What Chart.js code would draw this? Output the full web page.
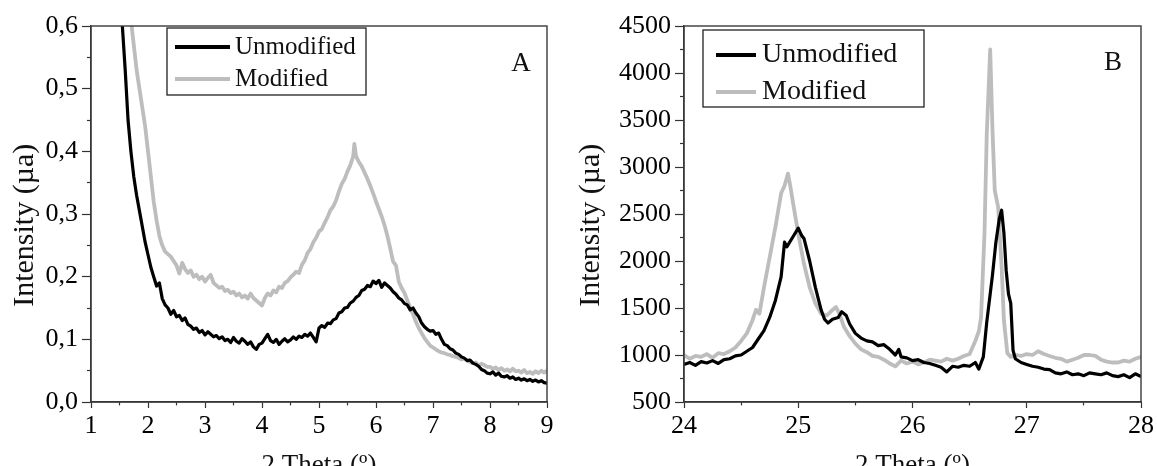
<!DOCTYPE html>
<html>
<head>
<meta charset="utf-8">
<script src="https://cdn.jsdelivr.net/npm/chart.js@4.4.0/dist/chart.umd.min.js"></script>
<style>
  html, body { margin: 0; padding: 0; background: #fff; width: 1157px; height: 466px; overflow: hidden; }
  canvas { position: absolute; top: 0; }
  #chartA { left: 0; }
  #chartB { left: 570px; }
</style>
</head>
<body>
<canvas id="chartA" width="570" height="466"></canvas>
<canvas id="chartB" width="587" height="466"></canvas>
<script>
// ---- data ----
const seriesNames = ['Unmodified', 'Modified'];

// panel A : low angle
const thetaA_unmod = [1.50, 1.55, 1.60, 1.65, 1.70, 1.75, 1.80, 1.85, 1.90, 1.95, 2.00, 2.05, 2.10, 2.15, 2.20, 2.25, 2.30, 2.35,
  2.40, 2.45, 2.50, 2.55, 2.60, 2.65, 2.70, 2.75, 2.80, 2.85, 2.90, 2.95, 3.00, 3.05, 3.10, 3.15, 3.20, 3.25, 3.30, 3.35,
  3.40, 3.45, 3.50, 3.55, 3.60, 3.65, 3.70, 3.75, 3.80, 3.85, 3.90, 3.95, 4.00, 4.05, 4.10, 4.15, 4.20, 4.25, 4.30, 4.35,
  4.40, 4.45, 4.50, 4.55, 4.60, 4.65, 4.70, 4.75, 4.80, 4.85, 4.90, 4.95, 5.00, 5.05, 5.10, 5.15, 5.20, 5.25, 5.30, 5.35,
  5.40, 5.45, 5.50, 5.55, 5.60, 5.65, 5.70, 5.75, 5.80, 5.85, 5.90, 5.95, 6.00, 6.05, 6.10, 6.15, 6.20, 6.25, 6.30, 6.35,
  6.40, 6.45, 6.50, 6.55, 6.60, 6.65, 6.70, 6.75, 6.80, 6.85, 6.90, 6.95, 7.00, 7.05, 7.10, 7.15, 7.20, 7.25, 7.30, 7.35,
  7.40, 7.45, 7.50, 7.55, 7.60, 7.65, 7.70, 7.75, 7.80, 7.85, 7.90, 7.95, 8.00, 8.05, 8.10, 8.15, 8.20, 8.25, 8.30, 8.35,
  8.40, 8.45, 8.50, 8.55, 8.60, 8.65, 8.70, 8.75, 8.80, 8.85, 8.90, 8.95, 9.00];
const intA_unmod = [0.68, 0.60, 0.53, 0.45, 0.40, 0.36, 0.33, 0.305, 0.28, 0.255, 0.235, 0.215, 0.20, 0.185, 0.19, 0.165, 0.155, 0.15,
  0.140, 0.146, 0.136, 0.138, 0.130, 0.134, 0.124, 0.121, 0.116, 0.118, 0.111, 0.114, 0.107, 0.112, 0.108, 0.104, 0.106, 0.101, 0.104, 0.098,
  0.100, 0.095, 0.103, 0.097, 0.094, 0.101, 0.097, 0.092, 0.096, 0.088, 0.084, 0.092, 0.094, 0.101, 0.108, 0.098, 0.095, 0.100, 0.092, 0.097,
  0.101, 0.096, 0.099, 0.104, 0.100, 0.105, 0.103, 0.108, 0.105, 0.110, 0.103, 0.096, 0.118, 0.122, 0.119, 0.126, 0.125, 0.131, 0.133, 0.142,
  0.144, 0.150, 0.151, 0.158, 0.161, 0.167, 0.170, 0.178, 0.180, 0.186, 0.184, 0.193, 0.189, 0.194, 0.183, 0.190, 0.186, 0.182, 0.176, 0.172,
  0.166, 0.163, 0.157, 0.155, 0.147, 0.150, 0.142, 0.136, 0.126, 0.120, 0.116, 0.113, 0.114, 0.108, 0.110, 0.100, 0.092, 0.090, 0.085, 0.083,
  0.078, 0.076, 0.072, 0.070, 0.066, 0.067, 0.062, 0.060, 0.057, 0.052, 0.050, 0.046, 0.045, 0.048, 0.043, 0.046, 0.041, 0.040, 0.042, 0.038,
  0.040, 0.036, 0.038, 0.035, 0.037, 0.034, 0.036, 0.033, 0.035, 0.032, 0.034, 0.031, 0.030];

const thetaA_mod = [1.65, 1.70, 1.75, 1.80, 1.85, 1.90, 1.95, 2.00, 2.05, 2.10, 2.15, 2.20, 2.25, 2.30, 2.35,
  2.40, 2.45, 2.50, 2.55, 2.60, 2.65, 2.70, 2.75, 2.80, 2.85, 2.90, 2.95, 3.00, 3.05, 3.10, 3.15, 3.20, 3.25, 3.30, 3.35,
  3.40, 3.45, 3.50, 3.55, 3.60, 3.65, 3.70, 3.75, 3.80, 3.85, 3.90, 3.95, 4.00, 4.05, 4.10, 4.15, 4.20, 4.25, 4.30, 4.35,
  4.40, 4.45, 4.50, 4.55, 4.60, 4.65, 4.70, 4.75, 4.80, 4.85, 4.90, 4.95, 5.00, 5.05, 5.10, 5.15, 5.20, 5.25, 5.30, 5.35,
  5.40, 5.45, 5.50, 5.55, 5.60, 5.62, 5.65, 5.70, 5.75, 5.80, 5.85, 5.90, 5.95, 6.00, 6.05, 6.10, 6.15, 6.20, 6.25, 6.30, 6.35,
  6.40, 6.45, 6.50, 6.55, 6.60, 6.65, 6.70, 6.75, 6.80, 6.85, 6.90, 6.95, 7.00, 7.05, 7.10, 7.15, 7.20, 7.25, 7.30, 7.35,
  7.40, 7.45, 7.50, 7.55, 7.60, 7.65, 7.70, 7.75, 7.80, 7.85, 7.90, 7.95, 8.00, 8.05, 8.10, 8.15, 8.20, 8.25, 8.30, 8.35,
  8.40, 8.45, 8.50, 8.55, 8.60, 8.65, 8.70, 8.75, 8.80, 8.85, 8.90, 8.95, 9.00];
const intA_mod = [0.66, 0.61, 0.57, 0.53, 0.50, 0.47, 0.44, 0.40, 0.36, 0.32, 0.29, 0.265, 0.25, 0.24, 0.236,
  0.232, 0.225, 0.218, 0.205, 0.222, 0.212, 0.206, 0.210, 0.200, 0.203, 0.196, 0.200, 0.192, 0.198, 0.203, 0.190, 0.186, 0.182, 0.184, 0.177,
  0.179, 0.174, 0.176, 0.170, 0.173, 0.167, 0.170, 0.165, 0.173, 0.166, 0.162, 0.158, 0.154, 0.166, 0.173, 0.170, 0.178, 0.175, 0.184, 0.182,
  0.190, 0.193, 0.199, 0.203, 0.208, 0.206, 0.219, 0.226, 0.238, 0.244, 0.255, 0.262, 0.272, 0.276, 0.286, 0.295, 0.306, 0.312, 0.322, 0.336,
  0.348, 0.356, 0.368, 0.378, 0.392, 0.412, 0.392, 0.383, 0.376, 0.366, 0.356, 0.345, 0.333, 0.320, 0.308, 0.296, 0.282, 0.265, 0.245, 0.224, 0.218,
  0.192, 0.182, 0.174, 0.162, 0.150, 0.140, 0.128, 0.118, 0.110, 0.102, 0.096, 0.090, 0.087, 0.084, 0.081, 0.079, 0.078, 0.076, 0.075, 0.073,
  0.072, 0.070, 0.068, 0.069, 0.066, 0.064, 0.062, 0.063, 0.058, 0.061, 0.059, 0.056, 0.056, 0.053, 0.055, 0.051, 0.054, 0.050, 0.052, 0.049,
  0.053, 0.049, 0.050, 0.047, 0.051, 0.046, 0.048, 0.045, 0.049, 0.046, 0.050, 0.047, 0.050];

// panel B : high angle
const thetaB_unmod = [24.00, 24.05, 24.10, 24.15, 24.20, 24.25, 24.30, 24.35, 24.40, 24.45, 24.50, 24.55, 24.60, 24.65, 24.70, 24.75, 24.80, 24.85, 24.88, 24.90,
  24.95, 25.00, 25.03, 25.05, 25.10, 25.15, 25.20, 25.23, 25.26, 25.30, 25.35, 25.38, 25.42, 25.45,
  25.50, 25.55, 25.60, 25.65, 25.70, 25.75, 25.80, 25.85, 25.88, 25.90, 25.95, 26.00, 26.05, 26.10, 26.15, 26.20, 26.25, 26.30, 26.35, 26.40,
  26.45, 26.50, 26.55, 26.58, 26.62, 26.65, 26.70, 26.73, 26.76, 26.78, 26.80, 26.82, 26.84, 26.86, 26.88, 26.90, 26.95,
  27.00, 27.05, 27.10, 27.15, 27.20, 27.25, 27.30, 27.35, 27.40, 27.45, 27.50, 27.55, 27.60, 27.65, 27.70, 27.75, 27.80, 27.85, 27.90, 27.95, 28.00];
const intB_unmod = [900, 920, 890, 930, 915, 940, 910, 950, 960, 990, 1000, 1040, 1080, 1170, 1260, 1400, 1580, 1830, 2200, 2150,
  2250, 2350, 2270, 2240, 2000, 1720, 1480, 1380, 1340, 1380, 1400, 1460, 1420, 1330,
  1230, 1180, 1150, 1140, 1100, 1110, 1060, 1000, 1060, 980, 970, 940, 950, 920, 910, 890, 870, 820, 880, 870,
  890, 880, 920, 850, 980, 1350, 1850, 2200, 2450, 2540, 2300, 1900, 1650, 1550, 1050, 960, 920,
  900, 880, 870, 850, 845, 810, 800, 820, 790, 800, 780, 810, 800, 790, 810, 780, 770, 790, 760, 800, 770];

const thetaB_mod = [24.00, 24.05, 24.10, 24.15, 24.20, 24.25, 24.30, 24.35, 24.40, 24.45, 24.50, 24.55, 24.60, 24.63, 24.66, 24.70, 24.75, 24.80, 24.85, 24.88,
  24.91, 24.93, 24.95, 25.00, 25.05, 25.10, 25.15, 25.20, 25.25, 25.30, 25.33, 25.36, 25.40, 25.45,
  25.50, 25.55, 25.60, 25.65, 25.70, 25.75, 25.80, 25.85, 25.90, 25.95, 26.00, 26.05, 26.10, 26.15, 26.20, 26.25, 26.30, 26.35, 26.40, 26.45, 26.50,
  26.55, 26.58, 26.60, 26.63, 26.65, 26.68, 26.70, 26.72, 26.75, 26.78, 26.80, 26.83, 26.86, 26.90, 26.95,
  27.00, 27.05, 27.10, 27.15, 27.20, 27.25, 27.30, 27.35, 27.40, 27.45, 27.50, 27.55, 27.60, 27.65, 27.70, 27.75, 27.80, 27.85, 27.90, 27.95, 28.00];
const intB_mod = [1000, 960, 990, 980, 1010, 970, 1020, 1010, 1040, 1080, 1150, 1230, 1370, 1480, 1440, 1720, 2040, 2360, 2720, 2800,
  2930, 2800, 2650, 2290, 1970, 1720, 1550, 1440, 1420, 1480, 1510, 1440, 1300, 1200,
  1120, 1060, 1030, 990, 980, 950, 910, 880, 940, 910, 930, 900, 920, 950, 940, 930, 960, 940, 960, 990, 1010,
  1150, 1250, 1400, 2290, 3350, 4250, 3400, 2750, 2570, 1940, 1370, 1020, 980, 1000, 990,
  1010, 1000, 1040, 1010, 990, 970, 960, 930, 950, 970, 1000, 1000, 990, 950, 930, 920, 920, 940, 930, 960, 980];

// axis ranges and tick steps
const xRangeA = [1, 9],    xStepA = 0.5;
const yRangeA = [0, 0.6],  yStepA = 0.05;
const xRangeB = [24, 28],  xStepB = 0.5;
const yRangeB = [500, 4500], yStepB = 250;

const serif = "'Liberation Serif', 'Times New Roman', serif";
Chart.defaults.font.family = serif;
Chart.defaults.color = '#000';

function pts(xs, ys) { return xs.map((x, i) => ({ x: x, y: ys[i] })); }
function near(v, step) { return Math.abs(v / step - Math.round(v / step)) < 1e-6; }

// box around plot, in-plot legend, panel letter
const frameAndLegend = {
  id: 'frameAndLegend',
  afterDatasetsDraw(chart, args, o) {
    const ctx = chart.ctx, a = chart.chartArea;
    ctx.save();
    ctx.strokeStyle = '#3a3a3a';
    ctx.lineWidth = 1.4;
    ctx.strokeRect(a.left, a.top, a.right - a.left, a.bottom - a.top);

    const L = o.legend;
    ctx.fillStyle = '#fff';
    ctx.fillRect(L.x, L.y, L.w, L.h);
    ctx.strokeStyle = '#222';
    ctx.lineWidth = 1.3;
    ctx.strokeRect(L.x, L.y, L.w, L.h);
    ctx.font = L.size + 'px ' + serif;
    ctx.textBaseline = 'middle';
    ctx.textAlign = 'left';
    chart.data.datasets.forEach((ds, i) => {
      const y = L.rows[i];
      ctx.strokeStyle = ds.borderColor;
      ctx.lineWidth = 4;
      ctx.beginPath();
      ctx.moveTo(L.x0, y);
      ctx.lineTo(L.x1, y);
      ctx.stroke();
      ctx.fillStyle = '#111';
      ctx.fillText(ds.label, L.tx, y);
    });

    ctx.font = o.letterSize + 'px ' + serif;
    ctx.textAlign = 'center';
    ctx.fillStyle = '#111';
    ctx.fillText(o.letter, o.letterX, o.letterY);
    ctx.restore();
  }
};

function makeChart(id, c) {
  const xMajor = v => near(v, 1);
  const yMajor = v => near(v, c.yMajorStep);
  return new Chart(document.getElementById(id), {
    type: 'line',
    data: {
      datasets: [
        { label: seriesNames[0], data: pts(c.x0, c.y0), borderColor: '#000000', borderWidth: 3.2, order: 0 },
        { label: seriesNames[1], data: pts(c.x1, c.y1), borderColor: '#bdbdbd', borderWidth: 3.8, order: 1 }
      ]
    },
    options: {
      responsive: false,
      animation: false,
      events: [],
      elements: { point: { radius: 0 }, line: { tension: 0, borderJoinStyle: 'round' } },
      layout: { padding: { top: 26, right: c.padRight, bottom: 0, left: 0 } },
      plugins: { legend: { display: false }, tooltip: { enabled: false }, frameAndLegend: c.deco },
      scales: {
        x: {
          type: 'linear', min: c.xRange[0], max: c.xRange[1],
          grid: {
            drawOnChartArea: false, drawTicks: true, tickLength: 6, tickColor: '#333', tickWidth: 1.2,
            tickBorderDash: ctx => xMajor(ctx.tick.value) ? [] : [3, 100],
            tickBorderDashOffset: 0
          },
          border: { display: true, color: '#333', width: 1.4 },
          ticks: {
            stepSize: c.xStep, autoSkip: false, maxRotation: 0, padding: 3,
            font: { size: 26 }, color: '#000',
            callback: v => xMajor(v) ? String(Math.round(v)) : ''
          },
          title: { display: true, text: '2 Theta (º)', font: { size: 27, lineHeight: 1 }, color: '#111', padding: { top: 0, bottom: -13 } },
          afterFit: s => { s.height = 64; }
        },
        y: {
          type: 'linear', min: c.yRange[0], max: c.yRange[1],
          grid: {
            drawOnChartArea: false, drawTicks: true, tickLength: 9, tickColor: '#333', tickWidth: 1.2,
            tickBorderDash: ctx => yMajor(ctx.tick.value) ? [] : [4, 100],
            tickBorderDashOffset: ctx => yMajor(ctx.tick.value) ? 0 : 99
          },
          border: { display: true, color: '#333', width: 1.4 },
          ticks: {
            stepSize: c.yStep, autoSkip: false, padding: 4,
            font: { size: 26 }, color: '#000',
            callback: c.yLabel
          },
          title: { display: true, text: 'Intensity (µa)   ', font: { size: 30, lineHeight: 1 }, color: '#111', padding: { top: c.yTitlePad, bottom: 0 } },
          afterFit: s => { s.width = c.yWidth; }
        }
      }
    },
    plugins: [frameAndLegend]
  });
}

makeChart('chartA', {
  x0: thetaA_unmod, y0: intA_unmod, x1: thetaA_mod, y1: intA_mod,
  xRange: xRangeA, xStep: xStepA, yRange: yRangeA, yStep: yStepA, yMajorStep: 0.1,
  yLabel: v => near(v, 0.1) ? (Math.round(v * 10) / 10).toFixed(1).replace('.', ',') : '',
  yWidth: 91, padRight: 23, yTitlePad: 10,
  deco: {
    legend: { x: 167, y: 28, w: 199, h: 67, x0: 175, x1: 230, tx: 235, rows: [47, 79], size: 25 },
    letter: 'A', letterX: 521, letterY: 64, letterSize: 27
  }
});

makeChart('chartB', {
  x0: thetaB_unmod, y0: intB_unmod, x1: thetaB_mod, y1: intB_mod,
  xRange: xRangeB, xStep: xStepB, yRange: yRangeB, yStep: yStepB, yMajorStep: 500,
  yLabel: v => near(v, 500) ? String(Math.round(v)) : '',
  yWidth: 114, padRight: 14, yTitlePad: 6,
  deco: {
    legend: { x: 133, y: 30, w: 221, h: 77, x0: 146, x1: 186, tx: 192, rows: [55, 92], size: 28 },
    letter: 'B', letterX: 543, letterY: 63, letterSize: 27
  }
});
</script>
</body>
</html>
